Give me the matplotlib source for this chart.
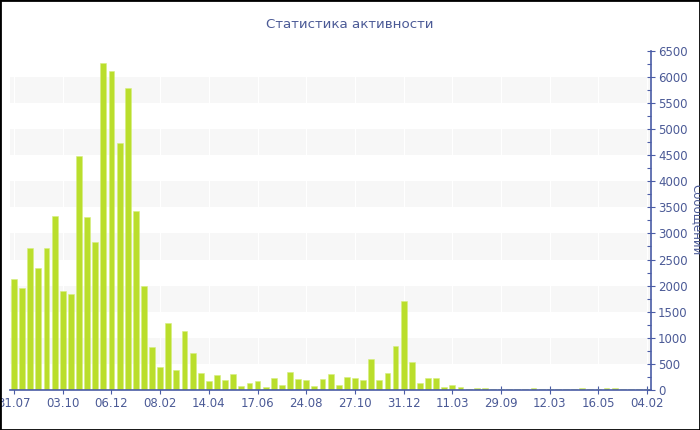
import numpy as np
import matplotlib.pyplot as plt
from matplotlib.patches import Rectangle

# messages per period (79 bars)
values = [2130, 1950, 2720, 2340, 2720, 3330, 1900, 1830, 4490, 3310,
          2830, 6260, 6120, 4740, 5790, 3430, 2000, 830, 450, 1280,
          380, 1130, 700, 330, 170, 290, 200, 310, 85, 135,
          170, 60, 230, 100, 340, 215, 200, 85, 215, 300,
          95, 245, 230, 200, 600, 200, 320, 845, 1700, 535,
          140, 235, 230, 65, 90, 50, 25, 38, 45, 19,
          13, 19, 25, 19, 32, 19, 19, 19, 19, 19,
          38, 19, 25, 38, 38, 19, 19, 19, 13]
tick_labels = ["31.07", "03.10", "06.12", "08.02", "14.04", "17.06", "24.08",
               "27.10", "31.12", "11.03", "29.09", "12.03", "16.05", "04.02"]
tick_step = 6

blue = "#4a5ca6"
txt = "#4b5a96"

fig = plt.figure(figsize=(7, 4.3), dpi=100)
ax = fig.add_axes([0.0143, 0.093, 0.916, 0.789])

x = np.arange(len(values))
for lo in range(500, 6500, 1000):
    ax.axhspan(lo, lo + 500, color="#f7f7f7", lw=0, zorder=0)
for t in x[::tick_step]:
    ax.axvline(t, color="white", lw=0.8, zorder=0.5)

ax.bar(x, values, width=0.72, color="#bade2c", edgecolor="#d6ee80", lw=0.4, zorder=2)

ax.set_xlim(-0.5, len(values) - 0.5)
ax.set_ylim(0, 6500)
ax.set_xticks(x[::tick_step])
ax.set_xticklabels(tick_labels)
ax.set_yticks(np.arange(0, 6501, 500))
ax.set_yticks(np.arange(250, 6500, 500), minor=True)
ax.yaxis.tick_right()

for s in ["top", "left"]:
    ax.spines[s].set_visible(False)
for s in ["bottom", "right"]:
    ax.spines[s].set_color(blue)
    ax.spines[s].set_linewidth(1.2)

ax.tick_params(axis="both", which="major", colors=blue, labelcolor=txt,
               labelsize=8.5, direction="inout", length=6, width=0.8, pad=2)
ax.tick_params(axis="y", which="minor", colors=blue, direction="in", length=3, width=0.8)

fig.text(0.5, 0.942, "Статистика активности", ha="center", va="center",
         color=txt, fontsize=9.6)
fig.text(0.9955, 0.49, "Сообщений", rotation=270, ha="center", va="center",
         color=txt, fontsize=8.5)

fig.patches.append(Rectangle((0, 0), 1, 1, transform=fig.transFigure,
                             fill=False, edgecolor="black", lw=2))

fig.savefig("out.png", dpi=100)
